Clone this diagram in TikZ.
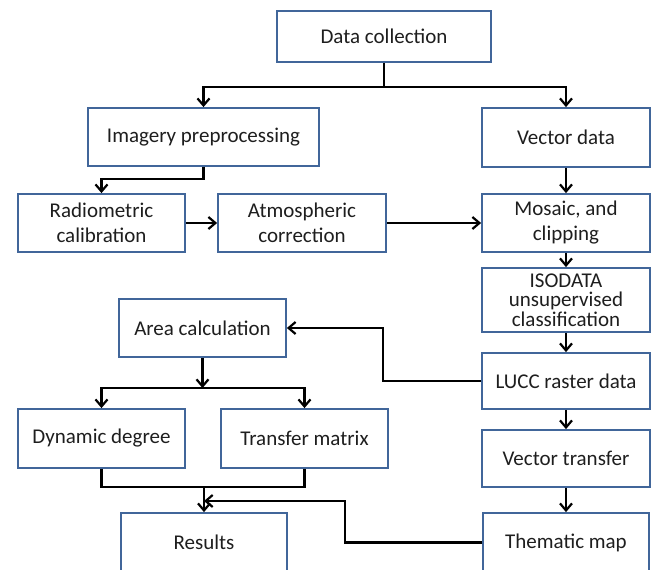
\documentclass[tikz,border=0pt]{standalone}
\usepackage{fontspec}
\setmainfont{Carlito}
\usetikzlibrary{arrows.meta}
\definecolor{boxblue}{HTML}{41669A}
\definecolor{txt}{HTML}{1E1E1E}
\tikzset{
  box/.style={draw=boxblue, line width=1.8pt, fill=white, text=txt, align=center,
    inner sep=0pt, font=\fontsize{21}{25}\selectfont},
  conn/.style={draw=black, line width=2.4pt},
  arr/.style={conn, -{Straight Barb[length=7pt,width=12pt,line width=2.2pt]}},
}
\begin{document}
\begin{tikzpicture}[x=1pt,y=-1pt]
\useasboundingbox (0,0) rectangle (654,570);
\clip (0,0) rectangle (654,570);
\fill[white] (0,0) rectangle (654,570);
\node[box, minimum width=214pt, minimum height=51pt] (dc) at (384,36.5) {Data collection};
\node[box, minimum width=231pt, minimum height=58pt] (ip) at (203.5,137) {Imagery preprocessing};
\node[box, minimum width=168pt, minimum height=59pt] (vd) at (566,137.5) {Vector data};
\node[box, minimum width=167pt, minimum height=58pt] (rc) at (101.5,223) {Radiometric\\calibration};
\node[box, minimum width=168pt, minimum height=58pt] (ac) at (302,223) {Atmospheric\\correction};
\node[box, minimum width=168pt, minimum height=58pt] (mc) at (566,223) {Mosaic, and\\clipping};
\node[box, minimum width=168pt, minimum height=64pt, font=\fontsize{21}{19.5}\selectfont] (iso) at (566,300) {ISODATA\\unsupervised\\classification};
\node[box, minimum width=167pt, minimum height=58pt] (area) at (202.5,328) {Area calculation};
\node[box, minimum width=168pt, minimum height=56pt] (lucc) at (566,381) {LUCC raster data};
\node[box, minimum width=167pt, minimum height=59pt] (dd) at (101.5,438.5) {Dynamic degree};
\node[box, minimum width=167pt, minimum height=59pt] (tm) at (304.5,438.5) {Transfer matrix};
\node[box, minimum width=168pt, minimum height=57pt] (vt) at (566,458.5) {Vector transfer};
\node[box, minimum width=166pt, minimum height=59pt] (res) at (204,542.5) {Results};
\node[box, minimum width=166pt, minimum height=59pt] (thm) at (566,542.5) {Thematic map};
\coordinate (top) at (384,87);
\coordinate (k1) at (203.5,179);
\coordinate (k2) at (383,381);
\coordinate (br) at (202.5,388);
\coordinate (mg) at (204,487);
\coordinate (k3) at (345,501);
% connectors
\draw[conn] (dc.south) -- (top);
\draw[arr] (top) -| (ip.north);
\draw[arr] (top) -| (vd.north);
\draw[arr] (ip.south) -- (k1) -| (rc.north);
\draw[arr] (rc.east) -- (ac.west);
\draw[arr] (ac.east) -- (mc.west);
\draw[arr] (vd.south) -- (mc.north);
\draw[arr] (mc.south) -- (iso.north);
\draw[arr] (iso.south) -- (lucc.north);
\draw[arr] (lucc.west) -- (k2) |- (area.east);
\draw[arr] (area.south) -- (br);
\draw[arr] (br) -| (dd.north);
\draw[arr] (br) -| (tm.north);
\draw[arr] (lucc.south) -- (vt.north);
\draw[arr] (vt.south) -- (thm.north);
\draw[conn] (dd.south) |- (mg) -| (tm.south);
\draw[arr] (mg) -- (res.north);
\draw[arr] (thm.west) -| (k3) -- (k3 -| mg);
\end{tikzpicture}
\end{document}
